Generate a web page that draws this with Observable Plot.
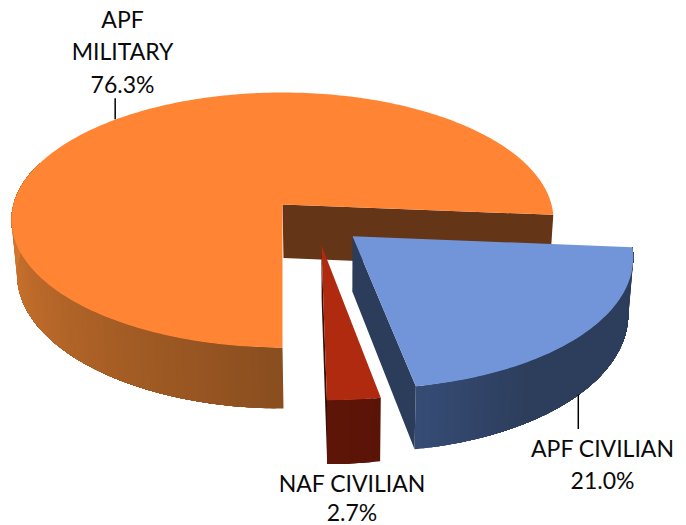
<!DOCTYPE html>
<html>
<head>
<meta charset="utf-8">
<script src="https://cdn.jsdelivr.net/npm/d3@7"></script>
<script src="https://cdn.jsdelivr.net/npm/@observablehq/plot@0.6"></script>
<style>html,body{margin:0;padding:0;background:#fff}svg{display:block}</style>
</head>
<body>
<div id="chart"></div>
<script>
// Data
const categories = ["APF MILITARY", "APF CIVILIAN", "NAF CIVILIAN"];
const shares = [76.3, 21.0, 2.7];
const labelLines = [["APF", "MILITARY", "76.3%"], ["APF CIVILIAN", "21.0%"], ["NAF CIVILIAN", "2.7%"]];

// Look of the 3-D pie
const startAngle = 90;               // degrees, clockwise on screen from east
const explodeX = [0, 0.2526, 0.139]; // slice offset on the pie's plane, in radii
const explodeY = [0, 0.245, 0.31];
const topColors = ["#ff8534", "#7295d9", "#b02a10"];
const wallColors = ["#643517", "#2c3d5b", "#3a0d05"];
const rimFrom = ["#8a4e1f", "#364c75", "#5e1508"];
const rimTo = ["#d97a30", "#2d3e5c", "#5a1407"];

// Projection of the pie's plane to the page
const cx = 282, cy = 204, rx = 269, ry = 125.6, k = 0.1216, depth = 53.6, vanishX = 340, shrink = 0.983;
function project(i, deg, r, bottom) {
  const a = deg * Math.PI / 180;
  const X = r * Math.cos(a) + explodeX[i], Y = r * Math.sin(a) + explodeY[i];
  const s = 1 / (1 - k * Y);
  let x = cx + rx * X * s, y = cy + ry * Y * s;
  if (bottom) { x = vanishX + (x - vanishX) * shrink; y += depth * s; }
  return [x, y];
}

// Slice angles from the values
const total = d3.sum(shares);
let run = startAngle;
const slices = shares.map((v, i) => {
  const a0 = run; run += v / total * 360;
  return {i, a0, a1: run, mid: (a0 + run) / 2};
});

const polys = [];
let pid = 0;
function addPoly(points, color) {
  pid++;
  for (const p of points) polys.push({id: pid, x: p[0], y: p[1], color});
}
function arc(i, a0, a1, bottom) {
  const n = Math.max(2, Math.ceil(Math.abs(a1 - a0)));
  return d3.range(n + 1).map(t => project(i, a0 + (a1 - a0) * t / n, 1, bottom));
}
// Each band runs to the far end of the rim, so later bands paint over earlier ones without seams
function rim(i, a0, a1, colorAt) {
  const n = Math.ceil(Math.abs(a1 - a0) / 1.5);
  for (let t = 0; t < n; t++) {
    const u = a0 + (a1 - a0) * t / n;
    addPoly([...arc(i, u, a1), ...arc(i, u, a1, true).reverse()], colorAt(t / n));
  }
}
function wall(i, deg, color) {
  addPoly([project(i, 0, 0), project(i, deg, 1), project(i, deg, 1, true), project(i, 0, 0, true)], color);
}
function face(i, a0, a1, color) {
  addPoly([project(i, 0, 0), ...arc(i, a0, a1)], color);
}

// Military slice: rim, then top, then the wall that shows in the gap
const [mil, civ, naf] = slices;
rim(0, mil.a0, 200, t => d3.interpolateRgb(rimFrom[0], rimTo[0])(Math.min(1, t * 1.15)));
wall(0, mil.a1, wallColors[0]);
face(0, mil.a0, mil.a1, topColors[0]);
// NAF civilian
wall(2, naf.a1, wallColors[2]);
rim(2, naf.a0, naf.a1, t => d3.interpolateRgb(rimTo[2], rimFrom[2])(t));
face(2, naf.a0, naf.a1, topColors[2]);
// APF civilian
wall(1, civ.a1, wallColors[1]);
rim(1, civ.a1, civ.a0, t => d3.interpolateRgb(rimFrom[1], rimTo[1])(Math.min(1, t * 3.5)));
face(1, civ.a0, civ.a1, topColors[1]);

// Leader lines start at the middle angle of the slice
const milTop = project(0, mil.mid, 1);
const civBot = project(1, civ.mid, 1, true);
const leaders = [
  {x: milTop[0], y1: milTop[1], y2: milTop[1] - 21},
  {x: civBot[0], y1: civBot[1], y2: 429}
];

// Label placement
const labelX = [122, 602, 351.5];
const labelY = [27, 456, 491];
const lineGap = [32.5, 32.5, 29.5];
const labels = labelLines.flatMap((lines, i) =>
  lines.map((text, j) => ({text, x: labelX[i], y: labelY[i] + j * lineGap[i]})));

const chart = Plot.plot({
  width: 686, height: 525,
  margin: 0,
  x: {domain: [0, 686], range: [0, 686], axis: null},
  y: {domain: [0, 525], range: [0, 525], axis: null},
  color: {type: "identity"},
  style: {background: "#fff"},
  marks: [
    Plot.line(polys, {x: "x", y: "y", z: "id", fill: "color", stroke: "none", curve: "linear-closed"}),
    Plot.ruleX(leaders, {x: "x", y1: "y1", y2: "y2", stroke: "#000", strokeWidth: 1.5}),
    Plot.text(labels, {x: "x", y: "y", text: "text", textAnchor: "middle", lineAnchor: "bottom",
      fontFamily: "Lato", fontSize: 23, fill: "#0a0a0a"})
  ]
});
document.getElementById("chart").appendChild(chart);
</script>
</body>
</html>
